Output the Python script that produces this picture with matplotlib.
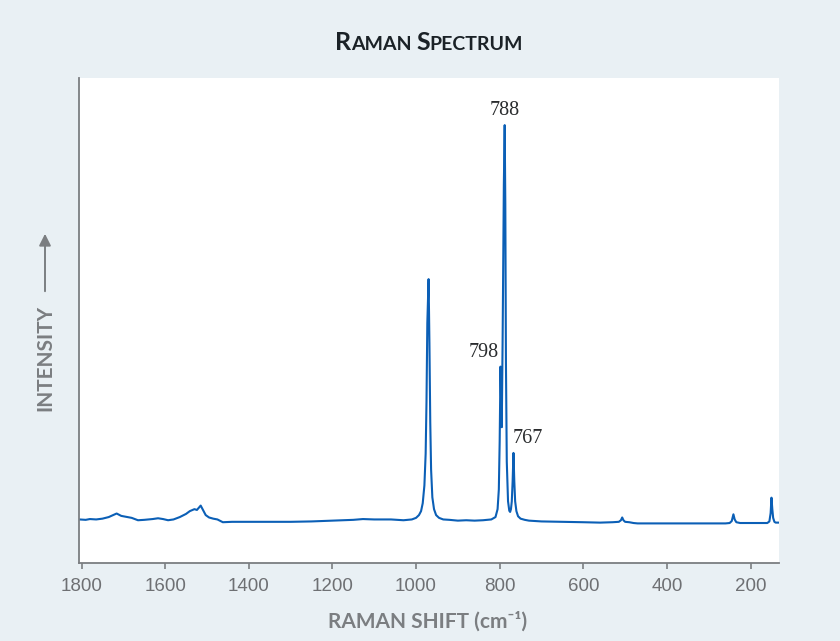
import matplotlib
matplotlib.use("Agg")
import matplotlib.pyplot as plt
import numpy as np

# Raman spectrum, read point by point (shift in cm-1, relative intensity)
shift = [1805, 1790, 1780, 1765, 1750, 1735, 1716, 1705, 1690, 1680,
         1665, 1650, 1630, 1617, 1605, 1593, 1580, 1565, 1550, 1541,
         1530, 1524, 1515, 1508, 1503, 1495, 1485, 1475, 1462, 1440,
         1400, 1350, 1300, 1250, 1200, 1150, 1127, 1100, 1060, 1030,
         1010, 1000, 993, 988, 984, 980, 977, 975, 973, 970,
         968, 966, 964, 961, 957, 952, 945, 935, 920, 900,
         880, 860, 840, 820, 810, 805, 802, 800, 798, 796.5,
         795, 793, 790, 788, 786.5, 785, 783, 780, 777, 775,
         773, 771, 769, 767, 765, 763, 760, 756, 750, 740,
         730, 700, 650, 600, 560, 530, 515, 510, 507, 504,
         500, 490, 480, 470, 400, 300, 260, 250, 245, 241,
         238, 234, 225, 200, 160, 155, 152, 150, 148, 146,
         143, 140, 132]
intensity = [0.004, 0.003, 0.005, 0.004, 0.006, 0.010, 0.019, 0.013, 0.010, 0.008,
             0.002, 0.003, 0.005, 0.007, 0.005, 0.002, 0.004, 0.010, 0.018, 0.025,
             0.030, 0.028, 0.039, 0.025, 0.015, 0.009, 0.006, 0.004, -0.003, -0.002,
             -0.002, -0.002, -0.002, -0.001, 0.001, 0.003, 0.005, 0.004, 0.004, 0.002,
             0.004, 0.008, 0.015, 0.025, 0.045, 0.090, 0.170, 0.300, 0.500, 0.611,
             0.450, 0.250, 0.130, 0.060, 0.030, 0.015, 0.008, 0.004, 0.003, 0.001,
             0.002, 0.001, 0.002, 0.004, 0.010, 0.030, 0.080, 0.200, 0.390, 0.300,
             0.237, 0.450, 0.850, 1.000, 0.800, 0.400, 0.150, 0.050, 0.026, 0.023,
             0.030, 0.050, 0.100, 0.172, 0.100, 0.050, 0.025, 0.012, 0.006, 0.003,
             0.001, -0.001, -0.002, -0.003, -0.004, -0.003, -0.002, 0.002, 0.009, 0.002,
             -0.002, -0.003, -0.005, -0.006, -0.006, -0.006, -0.006, -0.005, 0.000, 0.017,
             0.004, -0.003, -0.005, -0.005, -0.005, -0.001, 0.020, 0.059, 0.030, 0.008,
             -0.002, -0.004, -0.004]

# labelled bands: (shift, label)
peak_pos = [788, 798, 767]
peak_lab = ["788", "798", "767"]
peak_off = [(0, 5), (-2, 5), (-1, 5)]
peak_ha = ["center", "right", "left"]

xticks = [1800, 1600, 1400, 1200, 1000, 800, 600, 400, 200]

bg = "#e9f0f4"
gray = "#7b7e81"

fig = plt.figure(figsize=(8.4, 6.41), dpi=100, facecolor=bg)
ax = fig.add_axes([79 / 840, 78 / 641, 700 / 840, 485 / 641])
ax.set_facecolor("white")

ax.plot(shift, intensity, color="#0b5fb6", lw=1.5, solid_joinstyle="round")

ax.set_xlim(1806, 132)
ax.set_ylim(-0.106, 1.119)

for s in ["top", "right"]:
    ax.spines[s].set_visible(False)
for s in ["left", "bottom"]:
    ax.spines[s].set_color(gray)
    ax.spines[s].set_linewidth(1.3)

ax.set_xticks(xticks)
ax.set_xticklabels([str(t) for t in xticks])
ax.set_yticks([])
ax.tick_params(axis="x", direction="out", length=4, width=1.2, color=gray,
               labelcolor="#6e7073", labelsize=13.5, pad=7)
for lab in ax.get_xticklabels():
    lab.set_family("Liberation Sans")

# peak labels
sx = np.array(shift)
si = np.array(intensity)
for p, lab, off, ha in zip(peak_pos, peak_lab, peak_off, peak_ha):
    h = si[np.argmin(np.abs(sx - p))]
    ax.annotate(lab, xy=(p, h), xytext=off, textcoords="offset pixels",
                ha=ha, va="bottom", fontsize=14.5, family="Liberation Serif",
                color="#2a2c2e")

# title in small caps
fig.canvas.draw()
renderer = fig.canvas.get_renderer()
pieces = [("R", 18), ("AMAN ", 14), ("S", 18), ("PECTRUM", 14)]
texts = []
xpos = 0
for s, size in pieces:
    t = fig.text(xpos, 1 - 50 / 641, s, fontsize=size, family="Lato",
                 weight="bold", color="#1b2227", va="baseline", ha="left")
    bb = t.get_window_extent(renderer)
    texts.append(t)
    xpos = bb.x1 / 840
total = xpos
start = 429 / 840 - total / 2
for t in texts:
    x0, y0 = t.get_position()
    t.set_x(x0 + start)

# axis titles
fig.text(428 / 840, 1 - 628 / 641, "RAMAN SHIFT (cm\u207b\u00b9)", fontsize=15,
         family="Lato", weight="bold", color=gray, ha="center", va="baseline")
fig.text(45 / 840, 1 - 358 / 641, "INTENSITY", fontsize=15, family="Lato",
         weight="bold", color=gray, rotation=90, ha="center", va="center")
fig.add_artist(matplotlib.patches.FancyArrowPatch(
    (45 / 840, 1 - 294 / 641), (45 / 840, 1 - 231 / 641),
    transform=fig.transFigure, arrowstyle="-|>,head_length=7,head_width=3.5",
    color=gray, lw=1.4, mutation_scale=1))

fig.savefig("out.png", dpi=100, facecolor=bg)
